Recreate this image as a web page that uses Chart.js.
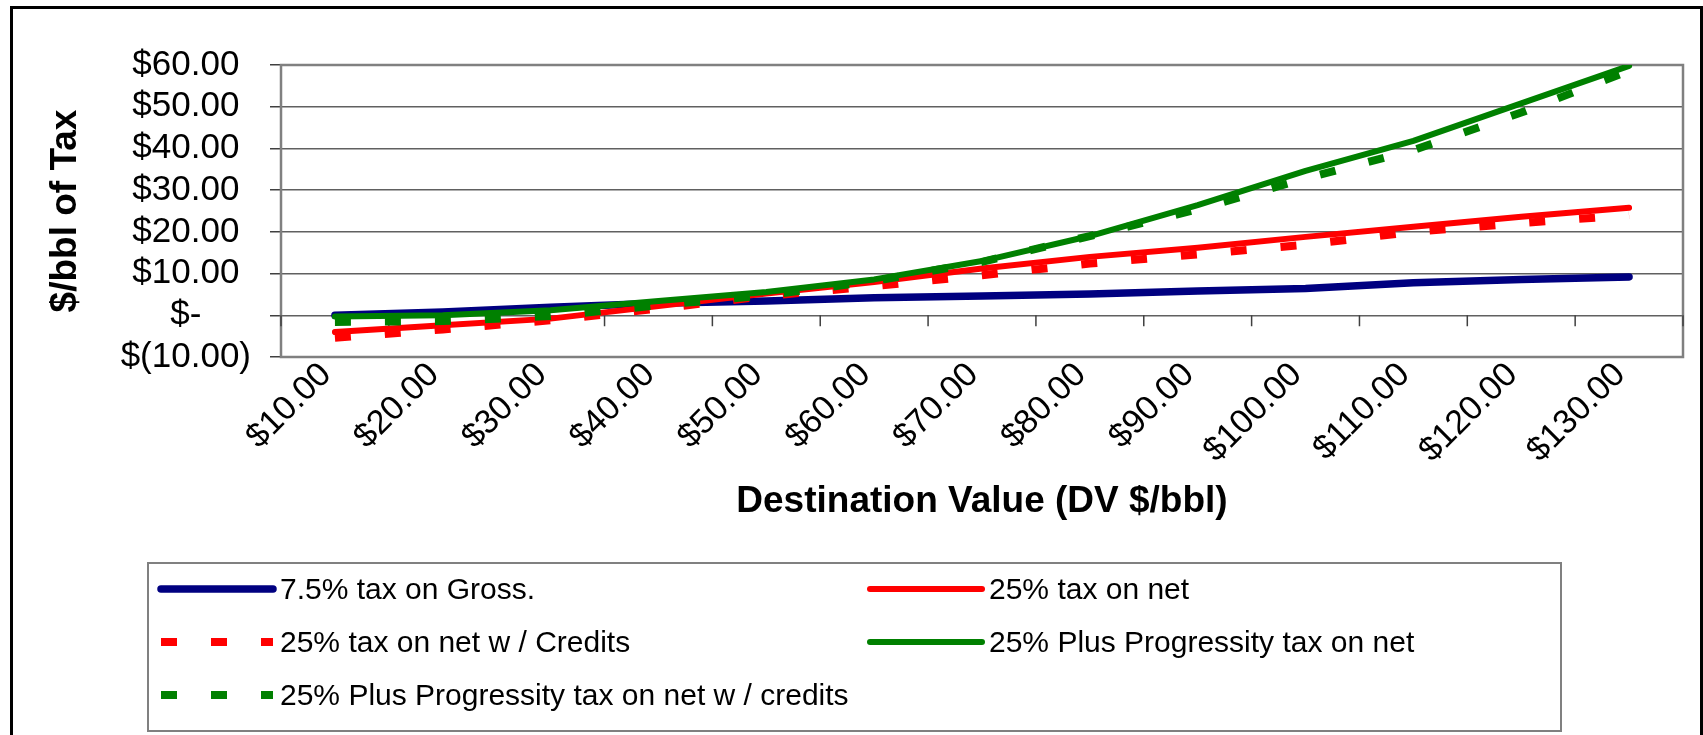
<!DOCTYPE html>
<html>
<head>
<meta charset="utf-8">
<script src="https://cdn.jsdelivr.net/npm/chart.js@4.4.1/dist/chart.umd.min.js"></script>
<style>
  html, body { margin: 0; padding: 0; background: #fff; overflow: hidden; }
  #wrap { position: relative; width: 1703px; height: 735px; }
  #frame { position: absolute; left: 10px; top: 6px; width: 1693px; height: 780px; border: 3px solid #000; box-sizing: border-box; pointer-events: none; }
  #legendBox { position: absolute; left: 147px; top: 562px; width: 1415px; height: 170px; border: 2px solid #808080; box-sizing: border-box; }
  .item { position: absolute; height: 40px; display: flex; align-items: center; white-space: nowrap;
          font: 30px Arial, "Liberation Sans", sans-serif; color: #000; }
  .item canvas { display: block; margin-right: 3px; }
</style>
</head>
<body>
<div id="wrap">
  <canvas id="chart"></canvas>
  <div id="legendBox"></div>
  <div id="frame"></div>
</div>
<script>
const FONT = 'Arial, "Liberation Sans", sans-serif';

// Destination value categories ($/bbl)
const CATEGORIES = ['$10.00', '$20.00', '$30.00', '$40.00', '$50.00', '$60.00', '$70.00',
  '$80.00', '$90.00', '$100.00', '$110.00', '$120.00', '$130.00'];

// y-axis labels, accounting format, from -10 to 60
const Y_TICK_LABELS = ['$(10.00)', '$-', '$10.00', '$20.00', '$30.00', '$40.00', '$50.00', '$60.00'];

// $/bbl of tax per series
const GROSS_75 = [0.0, 0.8, 1.9, 2.9, 3.4, 4.2, 4.6, 5.1, 5.8, 6.4, 7.8, 8.6, 9.2];
const NET_25 = [-4.0, -2.4, -0.8, 2.2, 5.2, 8.0, 11.2, 14.0, 16.2, 18.8, 21.2, 23.6, 25.8];
const NET_25_CREDITS = [-5.4, -3.4, -1.2, 1.6, 4.6, 7.0, 9.6, 12.4, 14.6, 16.9, 20.0, 22.1, 24.0];
const PROG_NET = [-0.3, 0.0, 1.2, 3.4, 5.6, 8.6, 13.0, 19.0, 26.4, 34.6, 41.8, 50.8, 59.8];
const PROG_NET_CREDITS = [-1.6, -1.4, -0.2, 2.4, 4.8, 8.2, 12.8, 19.0, 25.4, 32.8, 39.6, 48.6, 58.6];

const NAVY = '#000080';
const RED = '#ff0000';
const GREEN = '#008000';
const DASH = [16, 34];

function solid(label, data, color, width, order) {
  return { label, data, borderColor: color, backgroundColor: color, borderWidth: width,
    borderCapStyle: 'round', borderJoinStyle: 'round', pointRadius: 0, fill: false, order };
}
function dashed(label, data, color, order) {
  return { label, data, borderColor: color, backgroundColor: color, borderWidth: 8,
    borderDash: DASH, borderCapStyle: 'butt', borderJoinStyle: 'miter', pointRadius: 0, fill: false, order };
}

const datasets = [
  solid('7.5% tax on Gross.', GROSS_75, NAVY, 7.5, 5),
  solid('25% tax on net', NET_25, RED, 6, 4),
  dashed('25% tax on net w / Credits', NET_25_CREDITS, RED, 3),
  solid('25% Plus Progressity tax on net', PROG_NET, GREEN, 6, 2),
  dashed('25% Plus Progressity tax on net w / credits', PROG_NET_CREDITS, GREEN, 1),
];

// Excel-style plot frame plus category tick marks hanging from the zero line
const excelAxis = {
  id: 'excelAxis',
  beforeDatasetsDraw(chart) {
    const { ctx, chartArea: a, scales: { x, y } } = chart;
    ctx.save();
    ctx.strokeStyle = '#808080';
    ctx.lineWidth = 2.5;
    ctx.strokeRect(a.left, a.top, a.right - a.left, a.bottom - a.top);

    const y0 = y.getPixelForValue(0);
    const n = CATEGORIES.length;
    const half = (x.getPixelForTick(1) - x.getPixelForTick(0)) / 2;
    ctx.strokeStyle = '#404040';
    ctx.lineWidth = 1.5;
    ctx.beginPath();
    for (let i = 0; i <= n; i++) {
      const px = i < n ? x.getPixelForTick(i) - half : x.getPixelForTick(n - 1) + half;
      ctx.moveTo(px, y0);
      ctx.lineTo(px, y0 + 11);
    }
    ctx.stroke();
    ctx.restore();
  }
};

const chart = new Chart(document.getElementById('chart'), {
  type: 'line',
  data: { labels: CATEGORIES, datasets },
  plugins: [excelAxis],
  options: {
    responsive: true,
    maintainAspectRatio: false,
    animation: false,
    layout: { padding: { left: 0, top: 65, right: 20, bottom: 213 } },
    plugins: {
      legend: { display: false },
      tooltip: { enabled: false },
    },
    scales: {
      x: {
        offset: true,
        grid: { display: false, drawTicks: false, tickLength: 0, offset: true },
        border: { display: false },
        ticks: {
          color: '#000', font: { family: FONT, size: 34 },
          minRotation: 45, maxRotation: 45, autoSkip: false,
          padding: -2, labelOffset: -9,
        },
        title: {
          display: true, text: 'Destination Value (DV $/bbl)', color: '#000',
          font: { family: FONT, size: 37, weight: 'bold' },
          padding: { top: 0, bottom: -2 },
        },
        afterFit: (s) => { s.height = 165; },
      },
      y: {
        min: -10, max: 60,
        grid: { color: '#606060', lineWidth: 1.5, drawTicks: true, tickLength: 11, tickColor: '#404040' },
        border: { display: false },
        ticks: {
          stepSize: 10, autoSkip: false, color: '#000', font: { family: FONT, size: 35 },
          padding: 19, crossAlign: 'center',
          callback: (v, i) => Y_TICK_LABELS[i],
        },
        title: {
          display: true, text: '$/bbl of Tax', color: '#000',
          font: { family: FONT, size: 37, weight: 'bold' },
          padding: { top: 44, bottom: 0 },
        },
        afterFit: (s) => { s.width = 281; },
      },
    },
  },
});

// Two-column legend built from the chart's datasets
const LEGEND_COLS = [157, 866];
const LEGEND_ROWS = [589, 642, 695];
const wrap = document.getElementById('wrap');
chart.data.datasets.forEach((ds, i) => {
  const item = document.createElement('div');
  item.className = 'item';
  item.style.left = LEGEND_COLS[i % 2] + 'px';
  item.style.top = (LEGEND_ROWS[Math.floor(i / 2)] - 20) + 'px';

  const sample = document.createElement('canvas');
  sample.width = 120;
  sample.height = 20;
  const c = sample.getContext('2d');
  c.strokeStyle = ds.borderColor;
  c.lineWidth = ds.borderWidth;
  c.lineCap = ds.borderCapStyle;
  c.setLineDash(ds.borderDash || []);
  c.beginPath();
  c.moveTo(4, 10);
  c.lineTo(116, 10);
  c.stroke();

  const text = document.createElement('span');
  text.textContent = ds.label;
  item.appendChild(sample);
  item.appendChild(text);
  wrap.appendChild(item);
});
</script>
</body>
</html>
